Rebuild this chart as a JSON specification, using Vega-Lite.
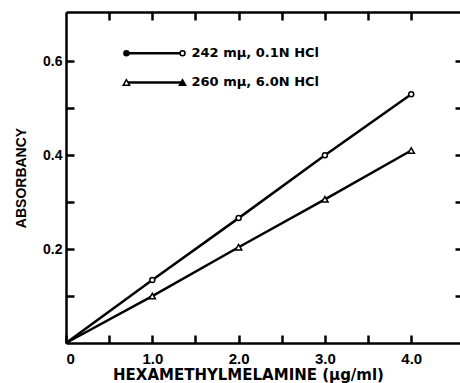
{
  "$schema": "https://vega.github.io/schema/vega-lite/v6.json",
  "width": 397,
  "height": 331,
  "autosize": {"type": "none"},
  "padding": {"left": 66, "top": 12, "right": 0, "bottom": 40},
  "background": "white",
  "config": {
    "view": {"stroke": null},
    "font": "Liberation Sans",
    "axis": {
      "grid": false,
      "domainColor": "black",
      "domainWidth": 2.5,
      "tickColor": "black",
      "tickWidth": 2.5,
      "tickSize": -8,
      "ticks": true,
      "labelColor": "black",
      "labelFont": "Liberation Sans",
      "labelFontWeight": "bold",
      "labelFontSize": 14,
      "titleColor": "black",
      "titleFont": "Liberation Sans",
      "titleFontWeight": "bold",
      "titleFontSize": 14
    }
  },
  "datasets": {
    "curves": [
      {"series": "242", "x": 0, "y": 0},
      {"series": "242", "x": 1, "y": 0.134},
      {"series": "242", "x": 2, "y": 0.266},
      {"series": "242", "x": 3, "y": 0.4},
      {"series": "242", "x": 4, "y": 0.53},
      {"series": "260", "x": 0, "y": 0},
      {"series": "260", "x": 1, "y": 0.1},
      {"series": "260", "x": 2, "y": 0.204},
      {"series": "260", "x": 3, "y": 0.306},
      {"series": "260", "x": 4, "y": 0.41}
    ],
    "legend": [
      {"series": "242", "end": "left", "x": 0.7, "y": 0.617, "label": "242 mµ, 0.1N HCl"},
      {"series": "242", "end": "right", "x": 1.35, "y": 0.617, "label": "242 mµ, 0.1N HCl"},
      {"series": "260", "end": "left", "x": 0.7, "y": 0.555, "label": "260 mµ, 6.0N HCl"},
      {"series": "260", "end": "right", "x": 1.35, "y": 0.555, "label": "260 mµ, 6.0N HCl"}
    ]
  },
  "layer": [
    {
      "data": {"name": "curves"},
      "mark": {"type": "line", "color": "black", "strokeWidth": 2.5},
      "encoding": {
        "x": {
          "field": "x", "type": "quantitative",
          "scale": {"domain": [0, 4.6], "nice": false},
          "axis": {
            "orient": "bottom",
            "values": [0, 0.5, 1, 1.5, 2, 2.5, 3, 3.5, 4],
            "labelExpr": "datum.value == 0 ? '0' : (datum.value % 1 == 0 ? format(datum.value, '.1f') : '')",
            "labelPadding": 16,
            "labelFontSize": 15,
            "title": "HEXAMETHYLMELAMINE (µg/ml)",
            "titleFont": "DejaVu Sans",
            "titleX": 182,
            "titleFontSize": 15,
            "titlePadding": 1
          }
        },
        "y": {
          "field": "y", "type": "quantitative",
          "scale": {"domain": [0, 0.705], "nice": false},
          "axis": {
            "orient": "left",
            "values": [0.1, 0.2, 0.3, 0.4, 0.5, 0.6],
            "labelExpr": "round(datum.value * 10) % 2 == 0 ? format(datum.value, '.1f') : ''",
            "labelPadding": 12,
            "title": "ABSORBANCY",
            "titlePadding": 14
          }
        },
        "detail": {"field": "series"}
      }
    },
    {
      "data": {"name": "curves"},
      "transform": [{"filter": "datum.series == '242' && datum.x > 0"}],
      "mark": {"type": "point", "shape": "circle", "color": "black", "fill": "white", "filled": false, "strokeWidth": 1.5, "size": 25, "opacity": 1},
      "encoding": {
        "x": {"field": "x", "type": "quantitative", "axis": {"orient": "top", "values": [0.5, 1, 1.5, 2, 2.5, 3, 3.5, 4], "labels": false, "ticks": true, "tickSize": -8, "title": null}},
        "y": {"field": "y", "type": "quantitative", "axis": {"orient": "right", "values": [0.1, 0.2, 0.3, 0.4, 0.5, 0.6], "labels": false, "domain": false, "ticks": true, "tickSize": -8, "title": null}}
      }
    },
    {
      "data": {"name": "curves"},
      "transform": [{"filter": "datum.series == '260' && datum.x > 0"}],
      "mark": {"type": "point", "shape": "triangle-up", "color": "black", "fill": "white", "filled": false, "strokeWidth": 1.5, "size": 40, "opacity": 1},
      "encoding": {
        "x": {"field": "x", "type": "quantitative", "axis": null},
        "y": {"field": "y", "type": "quantitative", "axis": null}
      }
    },
    {
      "data": {"name": "legend"},
      "mark": {"type": "line", "color": "black", "strokeWidth": 2.5},
      "encoding": {
        "x": {"field": "x", "type": "quantitative", "axis": null},
        "y": {"field": "y", "type": "quantitative", "axis": null},
        "detail": {"field": "series"}
      }
    },
    {
      "data": {"name": "legend"},
      "transform": [{"filter": "datum.series == '242'"}],
      "mark": {"type": "point", "shape": "circle", "color": "black", "filled": false, "fill": "white", "strokeWidth": 1.5, "size": 25, "opacity": 1},
      "encoding": {
        "x": {"field": "x", "type": "quantitative", "axis": null},
        "y": {"field": "y", "type": "quantitative", "axis": null},
        "fill": {"field": "end", "type": "nominal", "scale": {"domain": ["left", "right"], "range": ["black", "white"]}, "legend": null}
      }
    },
    {
      "data": {"name": "legend"},
      "transform": [{"filter": "datum.series == '260'"}],
      "mark": {"type": "point", "shape": "triangle-up", "color": "black", "filled": false, "fill": "white", "strokeWidth": 1.5, "size": 40, "opacity": 1},
      "encoding": {
        "x": {"field": "x", "type": "quantitative", "axis": null},
        "y": {"field": "y", "type": "quantitative", "axis": null},
        "fill": {"field": "end", "type": "nominal", "scale": {"domain": ["left", "right"], "range": ["white", "black"]}, "legend": null}
      }
    },
    {
      "data": {"name": "legend"},
      "transform": [{"filter": "datum.end == 'right'"}],
      "mark": {"type": "text", "align": "left", "baseline": "middle", "dx": 9, "font": "DejaVu Sans", "fontWeight": "bold", "fontSize": 13, "color": "black"},
      "encoding": {
        "x": {"field": "x", "type": "quantitative", "axis": null},
        "y": {"field": "y", "type": "quantitative", "axis": null},
        "text": {"field": "label"}
      }
    }
  ],
  "resolve": {"scale": {"fill": "independent"}}
}
